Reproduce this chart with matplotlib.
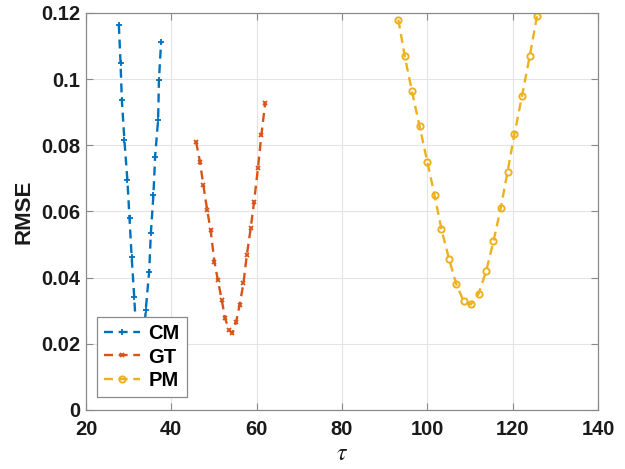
import matplotlib.pyplot as plt
import numpy as np

# values
cm_tau = [27.7, 28.1, 28.4, 29.0, 29.7, 30.2, 30.7, 31.3, 31.8, 32.3, 32.8,
          33.4, 34.0, 34.8, 35.2, 35.8, 36.2, 36.9, 37.1, 37.6]
cm_rmse = [0.1164, 0.1048, 0.0937, 0.0816, 0.0695, 0.0579, 0.0463, 0.0342, 0.0226, 0.0140, 0.0120,
           0.0186, 0.0302, 0.0418, 0.0534, 0.0650, 0.0766, 0.0877, 0.0998, 0.1112]

gt_tau = [45.8, 46.7, 47.5, 48.4, 49.2, 50.1, 50.9, 51.8, 52.6, 53.5, 54.3,
          55.2, 56.0, 56.9, 57.7, 58.6, 59.4, 60.3, 61.1, 62.0]
gt_rmse = [0.0811, 0.0751, 0.0680, 0.0605, 0.0544, 0.0448, 0.0393, 0.0333, 0.0277, 0.0242, 0.0232,
           0.0267, 0.0317, 0.0383, 0.0469, 0.0549, 0.0630, 0.0731, 0.0831, 0.0928]

pm_tau = [93.2, 94.7, 96.4, 98.2, 100.0, 101.7, 103.3, 105.1, 106.8, 108.5,
          110.2, 112.0, 113.8, 115.5, 117.2, 118.8, 120.4, 122.2, 124.0, 125.7]
pm_rmse = [0.1180, 0.1070, 0.0963, 0.0857, 0.0750, 0.0649, 0.0547, 0.0456, 0.0380, 0.0329,
           0.0319, 0.0351, 0.0420, 0.0510, 0.0610, 0.0720, 0.0833, 0.0950, 0.1070, 0.1190]

x_ticks = [20, 40, 60, 80, 100, 120, 140]
y_ticks = [0, 0.02, 0.04, 0.06, 0.08, 0.1, 0.12]
y_labels = ['0', '0.02', '0.04', '0.06', '0.08', '0.1', '0.12']

plt.rcParams['font.family'] = ['Liberation Sans', 'DejaVu Sans']
plt.rcParams['mathtext.fontset'] = 'stix'

fig = plt.figure(figsize=(6.25, 4.69), dpi=100)
ax = fig.add_axes([0.1376, 0.1258, 0.8192, 0.8465])

dash = (3.8, 2.4)
ax.plot(cm_tau, cm_rmse, ls='--', dashes=dash, color='#0072BD', lw=1.7,
        marker='+', ms=5, mew=1.3, label='CM')
ax.plot(gt_tau, gt_rmse, ls='--', dashes=dash, color='#D95319', lw=1.7,
        marker='x', ms=3.5, mew=1.3, label='GT')
ax.plot(pm_tau, pm_rmse, ls='--', dashes=dash, color='#EDB120', lw=1.7,
        marker='o', ms=4.5, mew=1.4, mfc='none', label='PM')

ax.set_xlim(20, 140)
ax.set_ylim(0, 0.12)
ax.set_xticks(x_ticks)
ax.set_yticks(y_ticks, labels=y_labels)
ax.grid(True, color='#e4e4e4', lw=0.8)
ax.set_axisbelow(True)

for s in ax.spines.values():
    s.set_color('#8a8a8a')
    s.set_linewidth(0.9)
ax.tick_params(direction='in', top=True, right=True, length=5, width=0.8,
               color='#8a8a8a', labelsize=14.5)
ax.tick_params(axis='x', pad=7)
ax.tick_params(axis='y', pad=4)
for lab in ax.get_xticklabels() + ax.get_yticklabels():
    lab.set_fontweight('bold')
    lab.set_color('#1a1a1a')

ax.set_ylabel('RMSE', fontsize=16, fontweight='bold', color='#1a1a1a', labelpad=5)
ax.set_xlabel(r'$\tau$', fontsize=17, color='#1a1a1a', labelpad=3)

leg = ax.legend(loc='lower left', bbox_to_anchor=(0.0215, 0.0327), borderaxespad=0,
                fancybox=False, framealpha=1, edgecolor='#8a8a8a',
                prop={'size': 14.5, 'weight': 'bold'}, handlelength=1.8,
                labelspacing=0.22, borderpad=0.35, handletextpad=0.4)
leg.set_zorder(5)
leg.get_frame().set_linewidth(0.9)

plt.savefig('out.png', dpi=100)
